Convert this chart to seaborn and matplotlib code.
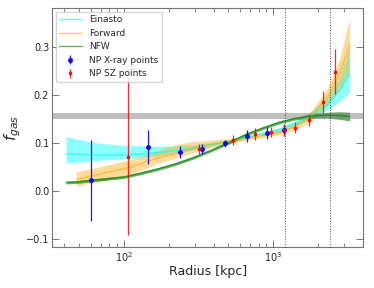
import matplotlib
matplotlib.use("Agg")
import matplotlib.pyplot as plt
import pandas as pd
import seaborn as sns

# model curves (radius in kpc, f_gas): central line plus lower / upper edge of band
x_ein = [41, 50, 60, 75, 100, 130, 170, 220, 290, 380, 500, 650, 850, 1100, 1400, 1800, 2300, 2800, 3250]
ein_mid = [0.078, 0.0765, 0.075, 0.0745, 0.075, 0.077, 0.080, 0.084, 0.089, 0.096, 0.103, 0.111, 0.119, 0.128, 0.140, 0.157, 0.180, 0.210, 0.245]
ein_lo = [0.058, 0.060, 0.062, 0.065, 0.067, 0.070, 0.074, 0.079, 0.085, 0.092, 0.100, 0.108, 0.116, 0.124, 0.135, 0.150, 0.168, 0.188, 0.205]
ein_hi = [0.113, 0.107, 0.102, 0.098, 0.095, 0.094, 0.093, 0.094, 0.096, 0.101, 0.107, 0.114, 0.122, 0.132, 0.146, 0.166, 0.196, 0.238, 0.300]

x_fwd = [48, 60, 75, 100, 130, 170, 220, 290, 380, 500, 650, 850, 1100, 1400, 1800, 2300, 2800, 3250]
fwd_mid = [0.024, 0.031, 0.038, 0.046, 0.057, 0.069, 0.078, 0.089, 0.097, 0.103, 0.109, 0.115, 0.122, 0.134, 0.156, 0.195, 0.245, 0.305]
fwd_lo = [0.010, 0.016, 0.022, 0.031, 0.043, 0.058, 0.068, 0.080, 0.090, 0.098, 0.105, 0.111, 0.117, 0.127, 0.145, 0.177, 0.213, 0.250]
fwd_hi = [0.040, 0.046, 0.053, 0.062, 0.072, 0.085, 0.096, 0.103, 0.106, 0.109, 0.113, 0.119, 0.127, 0.141, 0.167, 0.213, 0.278, 0.360]

x_nfw = [41, 50, 60, 75, 100, 130, 170, 220, 290, 380, 500, 650, 850, 1100, 1400, 1800, 2300, 2800, 3250]
nfw_mid = [0.0175, 0.019, 0.022, 0.025, 0.029, 0.037, 0.046, 0.056, 0.069, 0.084, 0.100, 0.117, 0.131, 0.143, 0.151, 0.156, 0.158, 0.157, 0.155]
nfw_lo = [0.0145, 0.016, 0.019, 0.022, 0.026, 0.034, 0.043, 0.053, 0.066, 0.081, 0.097, 0.114, 0.128, 0.140, 0.148, 0.152, 0.152, 0.149, 0.146]
nfw_hi = [0.0205, 0.022, 0.025, 0.028, 0.032, 0.040, 0.049, 0.059, 0.072, 0.087, 0.103, 0.120, 0.134, 0.146, 0.154, 0.160, 0.164, 0.165, 0.164]

# data points
x_xray = [60, 145, 237, 332, 477, 665, 907, 1180]
y_xray = [0.022, 0.092, 0.081, 0.088, 0.099, 0.114, 0.121, 0.127]
e_xray = [0.085, 0.036, 0.013, 0.010, 0.008, 0.012, 0.012, 0.012]

x_sz = [107, 320, 535, 750, 966, 1186, 1399, 1730, 2140, 2580]
y_sz = [0.0715, 0.088, 0.106, 0.119, 0.123, 0.126, 0.132, 0.147, 0.186, 0.2485]
e_sz = [0.163, 0.010, 0.010, 0.012, 0.010, 0.012, 0.012, 0.012, 0.023, 0.047]

r_lines = [1200, 2400]
fb_band = (0.150, 0.162)

sns.set_style("ticks")
plt.rcParams["font.family"] = ["DejaVu Sans"]

fig, ax = plt.subplots(figsize=(3.74, 2.88), dpi=100)
fig.subplots_adjust(left=0.139, right=0.971, top=0.972, bottom=0.142)

models = [
    ("Einasto", x_ein, ein_mid, ein_lo, ein_hi, "cyan", 0.45),
    ("Forward", x_fwd, fwd_mid, fwd_lo, fwd_hi, "orange", 0.4),
    ("NFW", x_nfw, nfw_mid, nfw_lo, nfw_hi, "green", 0.6),
]
for name, xs, mid, lo, hi, col, a in models:
    ax.fill_between(xs, lo, hi, color=col, alpha=a, linewidth=0)
    df = pd.DataFrame({"r": xs, "f": mid})
    sns.lineplot(data=df, x="r", y="f", color=col, alpha=0.6, linewidth=1.0, label=name, ax=ax)

ax.axhspan(*fb_band, color="gray", alpha=0.5, linewidth=0)
for r in r_lines:
    ax.axvline(r, color="k", linestyle=":", linewidth=0.7, alpha=0.7)

ax.errorbar(x_xray, y_xray, yerr=e_xray, fmt="o", color="blue", ms=2.6, elinewidth=0.9, alpha=0.9, label="NP X-ray points")
ax.errorbar(x_sz, y_sz, yerr=e_sz, fmt="s", color="red", ms=1.8, elinewidth=0.9, alpha=0.85, label="NP SZ points")

ax.set_xscale("log")
ax.set_xlim(33, 4000)
ax.set_ylim(-0.117, 0.381)
ax.set_yticks([-0.1, 0.0, 0.1, 0.2, 0.3])
ax.set_xlabel("Radius [kpc]", fontsize=9, labelpad=1)
ax.set_ylabel("$f_{gas}$", fontsize=11, labelpad=2)

for s in ax.spines.values():
    s.set_color("0.45")
    s.set_linewidth(0.8)
ax.tick_params(which="both", direction="in", top=True, right=True, color="0.45", labelsize=7, pad=2)
ax.tick_params(which="major", length=5, width=0.7)
ax.tick_params(which="minor", length=3, width=0.6)

ax.legend(loc="upper left", fontsize=6.5, frameon=True, handlelength=2.5, borderaxespad=0.4)

fig.savefig("out.png", dpi=100)
